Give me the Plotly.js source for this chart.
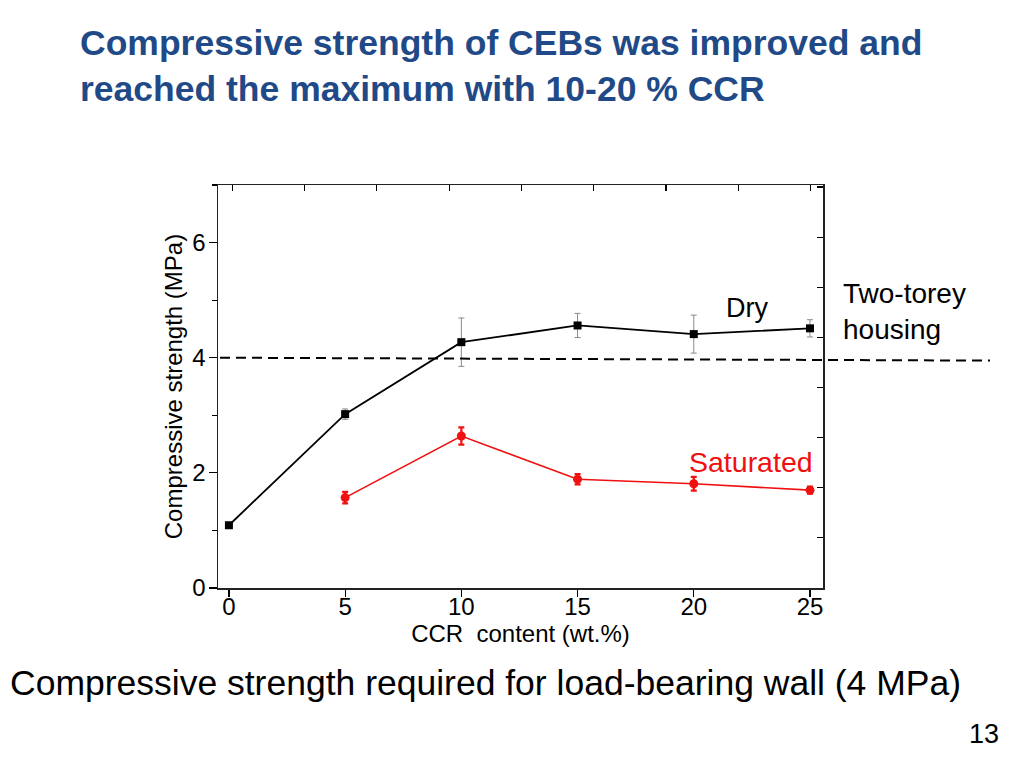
<!DOCTYPE html>
<html>
<head>
<meta charset="utf-8">
<script src="https://cdn.plot.ly/plotly-3.0.1.min.js"></script>
<style>html,body{margin:0;padding:0;background:#fff;}#chart{width:1024px;height:768px;}</style>
</head>
<body>
<div id="chart"></div>
<script>
// ---- data ----
var ccrContent = [0, 5, 10, 15, 20, 25];
var dryStrength = [1.09, 3.02, 4.27, 4.56, 4.41, 4.51];
var dryError = [0.03, 0.09, 0.42, 0.21, 0.33, 0.15];
var satContent = [5, 10, 15, 20, 25];
var satStrength = [1.57, 2.64, 1.89, 1.81, 1.70];
var satError = [0.10, 0.15, 0.09, 0.12, 0.06];
var requiredStrength = 4;
var xTicks = [0, 5, 10, 15, 20, 25];
var yTicks = [0, 2, 4, 6];

var titleText = 'Compressive strength of CEBs was improved and<br>reached the maximum with 10-20 % CCR';
var xTitle = 'CCR\u00a0 content (wt.%)';
var yTitle = 'Compressive strength (MPa)';
var bottomText = 'Compressive strength required for load-bearing wall (4 MPa)';
var pageNumber = '13';

// plot frame in pixels
var L = 218, R = 823, T = 185, B = 588;
function px(x) { return (x - L) / (R - L); }
function py(y) { return (B - y) / (B - T); }

var font = 'Liberation Sans, Arial, Helvetica, sans-serif';
var tickFont = {size: 24, family: font, color: '#000'};

var traces = [
  {
    x: ccrContent, y: dryStrength, type: 'scatter', mode: 'lines+markers',
    name: 'Dry',
    line: {color: '#000', width: 1.8},
    marker: {symbol: 'square', size: 8, color: '#000'},
    error_y: {type: 'data', array: dryError, visible: true, color: '#8a8a8a', thickness: 1, width: 3}
  },
  {
    x: satContent, y: satStrength, type: 'scatter', mode: 'lines+markers',
    name: 'Saturated',
    line: {color: '#f01010', width: 1.6},
    marker: {symbol: 'circle', size: 9, color: '#f01010'},
    error_y: {type: 'data', array: satError, visible: true, color: '#f01010', thickness: 2.2, width: 3}
  },
  {
    x: [], y: [], xaxis: 'x2', yaxis: 'y2', type: 'scatter', mode: 'markers',
    showlegend: false, hoverinfo: 'skip'
  }
];

var layout = {
  width: 1024, height: 768,
  paper_bgcolor: '#fff', plot_bgcolor: '#fff',
  showlegend: false,
  margin: {l: L, r: 1024 - R, t: T, b: 768 - B, pad: 0},
  font: {family: font, color: '#000', size: 20},
  xaxis: {
    range: [-0.47, 25.56], tickvals: xTicks, ticks: 'outside', ticklen: 7, tickwidth: 1.2,
    tickcolor: '#000', showline: true, linecolor: '#222', linewidth: 1.5, zeroline: false,
    showgrid: false, tickfont: tickFont, ticklabelstandoff: -10,
    title: {text: xTitle, font: {size: 24, family: font}, standoff: 1}
  },
  yaxis: {
    range: [0, 7], tickvals: yTicks, ticks: 'outside', ticklen: 8, tickwidth: 1.2,
    tickcolor: '#000', showline: true, linecolor: '#222', linewidth: 1.5, zeroline: false,
    showgrid: false, tickfont: tickFont, ticklabelstandoff: -2,
    minor: {dtick: 1, ticks: 'outside', ticklen: 5, tickwidth: 1.2, tickcolor: '#000', showgrid: false},
    title: {text: yTitle, font: {size: 24, family: font}, standoff: 3}
  },
  xaxis2: {
    overlaying: 'x', side: 'top', range: [-0.197, 8.17], dtick: 1, ticks: 'inside', ticklen: 6,
    tickwidth: 1.2, tickcolor: '#000', showticklabels: false, showline: true, linecolor: '#222',
    linewidth: 1.5, showgrid: false, zeroline: false
  },
  yaxis2: {
    overlaying: 'y', side: 'right', range: [0, 8.04], dtick: 1, ticks: 'inside', ticklen: 6,
    tickwidth: 1.2, tickcolor: '#000', showticklabels: false, showline: true, linecolor: '#222',
    linewidth: 1.5, showgrid: false, zeroline: false
  },
  shapes: [
    {type: 'line', xref: 'paper', yref: 'y', x0: px(220), x1: px(990),
     y0: requiredStrength, y1: requiredStrength - 0.05,
     line: {color: '#000', width: 2, dash: '10px,6px'}}
  ],
  annotations: [
    {text: titleText, xref: 'paper', yref: 'paper', x: px(78), y: py(66), xanchor: 'left', yanchor: 'middle',
     align: 'left', showarrow: false, font: {size: 35.5, family: font, color: '#1f4a87', weight: 'bold'}},
    {text: 'Dry', xref: 'paper', yref: 'paper', x: px(747), y: py(308), xanchor: 'center', yanchor: 'middle',
     showarrow: false, font: {size: 27, family: font, color: '#000'}},
    {text: 'Saturated', xref: 'paper', yref: 'paper', x: px(751), y: py(462), xanchor: 'center', yanchor: 'middle',
     showarrow: false, font: {size: 28.5, family: font, color: '#f01010'}},
    {text: 'Two-torey<br>housing', xref: 'paper', yref: 'paper', x: px(841), y: py(311), xanchor: 'left', yanchor: 'middle',
     align: 'left', showarrow: false, font: {size: 28, family: font, color: '#000'}},
    {text: bottomText, xref: 'paper', yref: 'paper', x: px(8), y: py(683), xanchor: 'left', yanchor: 'middle',
     showarrow: false, font: {size: 35.5, family: font, color: '#000'}},
    {text: pageNumber, xref: 'paper', yref: 'paper', x: px(1001), y: py(734), xanchor: 'right', yanchor: 'middle',
     showarrow: false, font: {size: 27, family: font, color: '#000'}}
  ]
};

Plotly.newPlot('chart', traces, layout, {displayModeBar: false, staticPlot: true});
</script>
</body>
</html>
